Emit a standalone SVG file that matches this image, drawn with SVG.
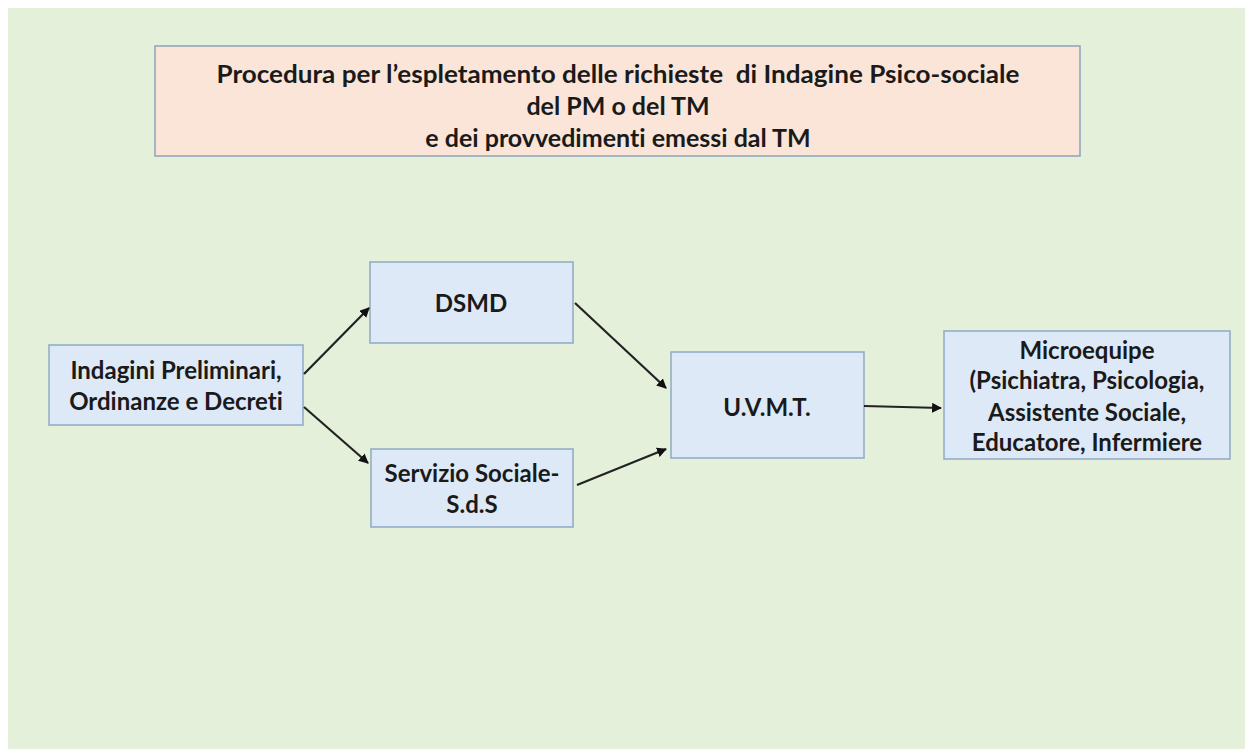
<svg xmlns="http://www.w3.org/2000/svg" width="1245" height="749" viewBox="0 0 1245 749">
<style>
.bg{fill:#e4f0da}
.title{fill:#fae5d8;stroke:#8aa3b8;stroke-width:1.5}
.node{fill:#dde9f6;stroke:#8ea9c4;stroke-width:1.5}
text{font-family:Lato,"Liberation Sans",sans-serif;font-weight:bold;font-size:24px;fill:#1a1a1a;text-anchor:middle;dominant-baseline:central;font-variant-ligatures:none;white-space:pre}
.t{font-size:25px}
.conn line{stroke:#222;stroke-width:2.2;marker-end:url(#ah)}
</style>
<defs>
<marker id="ah" viewBox="0 0 10 10" refX="9" refY="5" markerWidth="4.5" markerHeight="4.5" orient="auto" markerUnits="strokeWidth">
<path d="M0,0 L10,5 L0,10 z" fill="#111"/>
</marker>
</defs>
<rect width="1245" height="749" fill="#ffffff"/>
<rect class="bg" x="8" y="8" width="1237" height="741"/>
<g id="title">
<rect class="title" x="155" y="46" width="925" height="110"/>
<text class="t" x="618" y="73" textLength="803" lengthAdjust="spacingAndGlyphs">Procedura per l’espletamento delle richieste  di Indagine Psico-sociale</text>
<text class="t" x="618" y="105">del PM o del TM</text>
<text class="t" x="618" y="137">e dei provvedimenti emessi dal TM</text>
</g>
<g id="indagini">
<rect class="node" x="49" y="345" width="254" height="80"/>
<text x="176" y="369">Indagini Preliminari,</text>
<text x="176" y="400">Ordinanze e Decreti</text>
</g>
<g id="dsmd">
<rect class="node" x="370" y="262" width="203" height="81"/>
<text x="471" y="302">DSMD</text>
</g>
<g id="servizio">
<rect class="node" x="371" y="449" width="202" height="78"/>
<text x="472" y="472">Servizio Sociale-</text>
<text x="472" y="503">S.d.S</text>
</g>
<g id="uvmt">
<rect class="node" x="671" y="352" width="193" height="106"/>
<text x="767" y="406">U.V.M.T.</text>
</g>
<g id="microequipe">
<rect class="node" x="944" y="331" width="286" height="128"/>
<text x="1087" y="349">Microequipe</text>
<text x="1087" y="379">(Psichiatra, Psicologia,</text>
<text x="1087" y="411">Assistente Sociale,</text>
<text x="1087" y="441">Educatore, Infermiere</text>
</g>
<g id="connectors" class="conn">
<line x1="304" y1="374" x2="369" y2="308"/>
<line x1="304" y1="407" x2="368" y2="463"/>
<line x1="575" y1="303" x2="666" y2="388"/>
<line x1="577" y1="485" x2="666" y2="449"/>
<line x1="864" y1="406" x2="941" y2="408"/>
</g>
</svg>
